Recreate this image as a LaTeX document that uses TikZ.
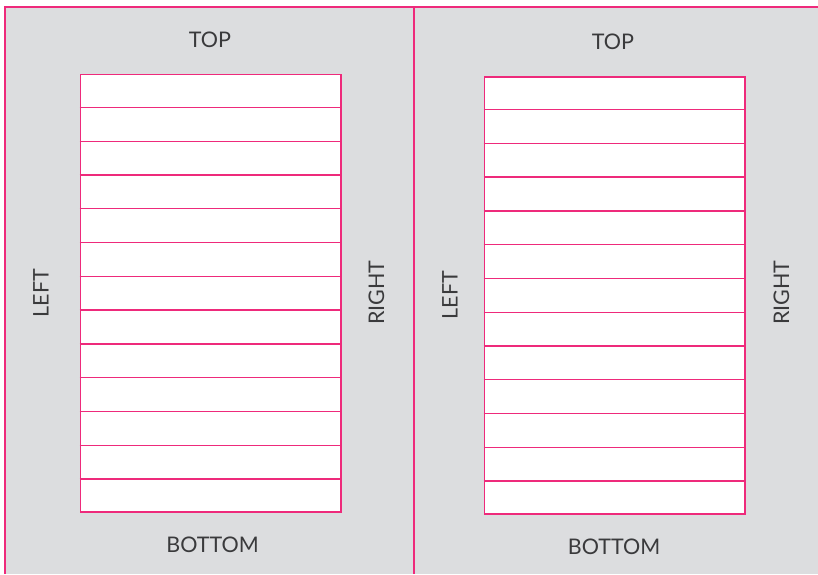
\documentclass[tikz,border=0pt]{standalone}
\usepackage{fontspec}
\setmainfont{Lato}
\usetikzlibrary{calc}
\definecolor{panegrey}{HTML}{DCDDDF}
\definecolor{rulepink}{HTML}{EE2A7B}
\definecolor{labelgrey}{HTML}{3A3A3C}
\tikzset{
    sheet/.style = {draw=rulepink, fill=white, line width=1.7pt, inner sep=0pt},
    row rule/.style = {draw=rulepink, line width=1.4pt},
    frame rule/.style = {draw=rulepink, line width=2pt},
    edge label/.style = {text=labelgrey, inner sep=0pt, font=\fontsize{21.5}{21.5}\selectfont},
}

\begin{document}
\begin{tikzpicture}[x=1pt, y=-1pt]
            \useasboundingbox (0,0) rectangle (818,574);
            \fill[panegrey] (5,7) rectangle (818,574);

            \coordinate (tl) at (4.5,6.5);
            \coordinate (tr) at (818,6.5);
            \coordinate (bl) at (4.5,574);
            \coordinate (mt) at (413.5,6.5);
            \coordinate (mb) at (413.5,574);
            \draw[frame rule] (bl) -- (tl) -- (tr);
            \draw[frame rule] (mt) -- (mb);

            \node[sheet, minimum width=260.5pt, minimum height=437.5pt] (sheetL) at (210.75,293.25) {};
            \node[sheet, minimum width=260.2pt, minimum height=437.3pt] (sheetR) at (614.6,295.35) {};

            \foreach \s in {sheetL, sheetR}
                \foreach \i in {1,...,12}
                    \draw[row rule] ($(\s.north west)!\i/13!(\s.south west)$) -- ($(\s.north east)!\i/13!(\s.south east)$);

            \node[edge label] (topL) at (210,40) {TOP};
            \node[edge label] (bottomL) at (212.5,544.5) {BOTTOM};
            \node[edge label, rotate=90] (leftL) at (41,293) {LEFT};
            \node[edge label, rotate=90] (rightL) at (376.5,292.5) {RIGHT};

            \node[edge label] (topR) at (613,42) {TOP};
            \node[edge label] (bottomR) at (614,546.5) {BOTTOM};
            \node[edge label, rotate=90] (leftR) at (450,295) {LEFT};
            \node[edge label, rotate=90] (rightR) at (781.5,292.5) {RIGHT};
        \end{tikzpicture}
\end{document}
